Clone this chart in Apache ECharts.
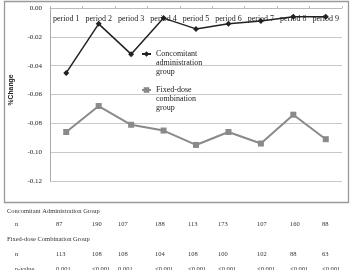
<!DOCTYPE html>
<html><head><meta charset="utf-8">
<script src="https://cdn.jsdelivr.net/npm/echarts@6/dist/echarts.min.js"></script>
<style>html,body{margin:0;padding:0;background:#fff}#c{width:350px;height:270px}</style>
</head><body><div id="c"></div>
<script>
var categories = ['period 1','period 2','period 3','period 4','period 5','period 6','period 7','period 8','period 9'];
var concomitant = [-0.045,-0.011,-0.032,-0.007,-0.0145,-0.011,-0.009,-0.006,-0.006];
var fixedDose = [-0.086,-0.068,-0.081,-0.085,-0.095,-0.086,-0.094,-0.074,-0.091];
var yTicks = [0,-0.02,-0.04,-0.06,-0.08,-0.10,-0.12];
var concName = 'Concomitant\nadministration\ngroup';
var fixedName = 'Fixed-dose\ncombination\ngroup';
var concN = ['87','190','107','188','113','173','107','160','88'];
var fixedN = ['113','108','108','104','108','100','102','88','63'];
var pValues = ['0.001','<0.001','0.001','<0.001','<0.001','<0.001','<0.001','<0.001','<0.001'];

var colX = [56,92,118,155,188,218,257,290,322];
var serif = 'Liberation Serif';
var tFont = 6.5, tColor = '#333';
var graphics = [{type:'rect', shape:{x:4.5,y:1.5,width:344,height:201}, style:{fill:'none', stroke:'#999', lineWidth:1.3}, z:-1}];
function txt(x,y,s){graphics.push({type:'text', x:x, y:y, style:{text:s, font:tFont+'px "'+serif+'"', fill:tColor, textVerticalAlign:'middle'}});}
txt(7,211,'Concomitant Administration Group');
txt(15,224,'n');
concN.forEach(function(v,i){txt(colX[i],224,v);});
txt(7,239,'Fixed-dose Combination Group');
txt(15,254,'n');
fixedN.forEach(function(v,i){txt(colX[i],254,v);});
txt(15,269,'p-value');
pValues.forEach(function(v,i){txt(colX[i],269,v);});

var chart = echarts.init(document.getElementById('c'));
function legendFor(name, top){
  return {data:[name], orient:'vertical', left:141, top:top, padding:0, itemWidth:9, itemHeight:7,
    formatter:function(n){return '\n\n'+n;},
    textStyle:{fontFamily:serif, fontSize:8, color:'#222', lineHeight:9}, itemGap:0};
}
chart.setOption({
  animation:false,
  grid:{left:49, top:8, right:8, bottom:89},
  legend:[legendFor(concName,31.5), legendFor(fixedName,67.5)],
  xAxis:{type:'category', data:categories, position:'top', boundaryGap:true,
    axisLine:{show:true, lineStyle:{color:'#bbb'}},
    axisTick:{show:true, length:2, lineStyle:{color:'#bbb'}},
    axisLabel:{inside:true, margin:7, interval:0, hideOverlap:false, fontFamily:serif, fontSize:8, color:'#222'}},
  yAxis:{type:'value', min:-0.12, max:0, interval:0.02, name:'%Change', nameLocation:'middle', nameGap:35,
    nameTextStyle:{fontFamily:'Liberation Sans', fontSize:6.8, fontWeight:'bold', color:'#222', padding:[0,0,0,9]},
    axisLine:{show:true, lineStyle:{color:'#aaa'}}, axisTick:{show:false},
    axisLabel:{margin:8, fontFamily:serif, fontSize:7, color:'#222', formatter:function(v){return v.toFixed(2);}},
    splitLine:{lineStyle:{color:'#c8c8c8'}}},
  series:[
    {name:concName, type:'line', data:concomitant, symbol:'diamond', symbolSize:6,
      lineStyle:{color:'#222', width:1.5}, itemStyle:{color:'#222'}, z:3},
    {name:fixedName, type:'line', data:fixedDose, symbol:'rect', symbolSize:6,
      lineStyle:{color:'#8a8a8a', width:2}, itemStyle:{color:'#8a8a8a'}, z:2}
  ],
  graphic:graphics
});
</script></body></html>
